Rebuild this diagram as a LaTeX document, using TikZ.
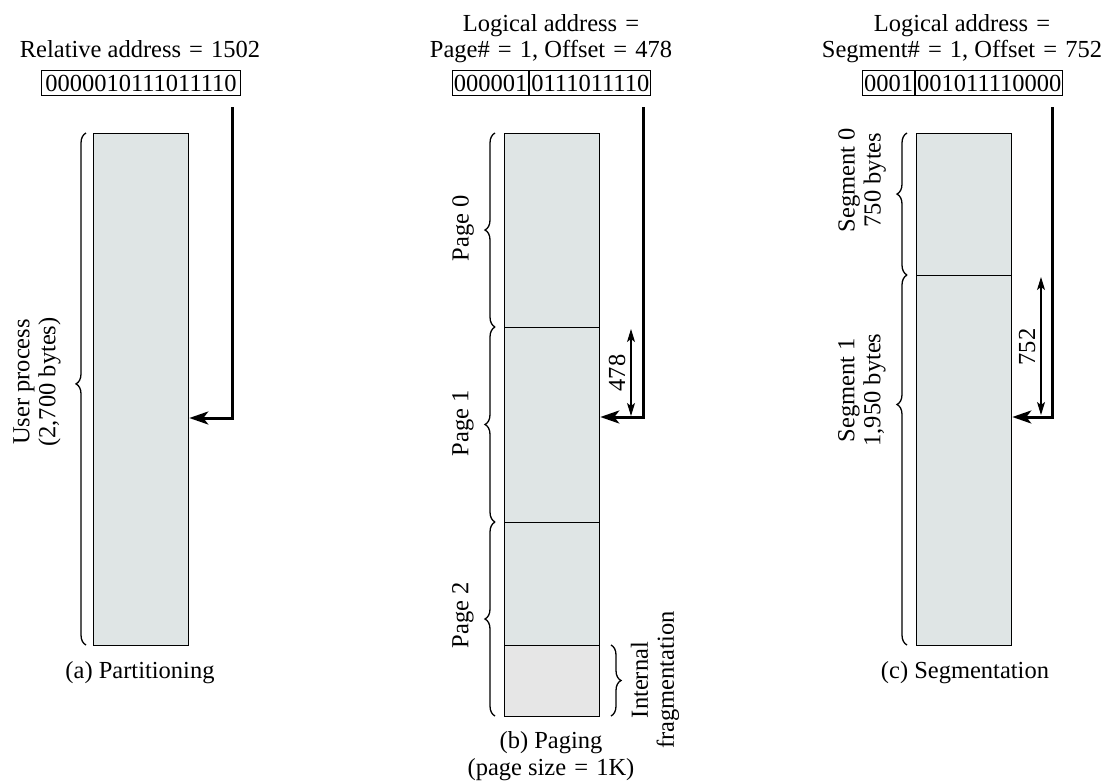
\documentclass[tikz,border=0pt]{standalone}
\usepackage{fontspec}
\setmainfont{Liberation Serif}
\usetikzlibrary{arrows.meta,decorations.pathreplacing}
\definecolor{memfill}{RGB}{223,229,229}
\definecolor{fragfill}{RGB}{230,230,230}
\newcommand{\eqs}{\hspace{2pt}=\hspace{2pt}}
\begin{document}
\begin{tikzpicture}[x=1pt,y=1pt,
  font=\fontsize{24.5}{26}\selectfont,
  mem/.style={draw, line width=1.3pt, fill=memfill, minimum width=95pt, inner sep=0pt, anchor=north west},
  bits/.style={draw, line width=1.1pt, minimum height=25pt, inner ysep=0pt, inner xsep=1.5pt},
  ptr/.style={line width=3pt, -{Stealth[length=19pt,width=13pt,inset=5pt]}},
  dimarrow/.style={line width=1.1pt, {Stealth[length=13pt,width=8pt,inset=3pt]}-{Stealth[length=13pt,width=8pt,inset=3pt]}},
  brc/.style={decorate, decoration={brace, amplitude=10pt, aspect=#1}, line width=1.3pt},
  brc/.default=0.5,
  lbl/.style={rotate=90, align=center, inner sep=0pt},
  txt/.style={anchor=base, inner sep=0pt}]
\useasboundingbox (0,0) rectangle (1111,-780);

% ---------------- (a) Partitioning
\node[txt] (ra) at (140,-57) {Relative address \eqs{} 1502};
\node[bits, inner xsep=4pt, anchor=north west] (ba) at (40.7,-70) {0000010111011110};
\node[mem, minimum height=512pt] (ma) at (93,-133) {};
\coordinate (ta) at (232,-107);
\draw[ptr] (ta) |- (ma.east |- 0,-418);
\draw[brc=0.51] (86,-645) -- (86,-133);
\node[lbl] (la) at (37,-382) {User process\\(2,700 bytes)};
\node[txt] (ca) at (140,-678) {(a) Partitioning};

% ---------------- (b) Paging
\node[txt] (lb1) at (551,-31) {Logical address \eqs{}};
\node[txt] (lb2) at (551,-57) {Page\# \eqs{} 1, Offset \eqs{} 478};
\node[bits, anchor=north west] (bb1) at (451.7,-70) {000001};
\node[bits, anchor=west] (bb2) at (bb1.east) {0111011110};
\node[mem, minimum height=194pt] (p0) at (504,-133) {};
\node[mem, minimum height=195pt] (p1) at (504,-327) {};
\node[mem, minimum height=123pt] (p2) at (504,-522) {};
\node[mem, fill=fragfill, minimum height=71pt] (pf) at (504,-645) {};
\coordinate (tb) at (643,-107);
\draw[ptr] (tb) |- (p1.east |- 0,-417);
\coordinate (db1) at (631,-329);
\coordinate (db2) at (631,-416);
\draw[dimarrow] (db2) -- (db1);
\node[lbl] (o478) at (617,-373) {478};
\draw[brc] (495,-327) -- (495,-133);
\draw[brc] (495,-522) -- (495,-327);
\draw[brc] (495,-716) -- (495,-522);
\node[lbl] (lp0) at (463,-228) {Page 0};
\node[lbl] (lp1) at (463,-423) {Page 1};
\node[lbl] (lp2) at (463,-615) {Page 2};
\draw[brc] (611,-645) -- (611,-716);
\node[lbl] (lif) at (655,-680) {Internal\\fragmentation};
\node[txt] (cb1) at (551,-748) {(b) Paging};
\node[txt] (cb2) at (551,-775) {(page size \eqs{} 1K)};

% ---------------- (c) Segmentation
\node[txt] (lc1) at (962,-31) {Logical address \eqs{}};
\node[txt] (lc2) at (962,-57) {Segment\# \eqs{} 1, Offset \eqs{} 752};
\node[bits, anchor=north west] (bc1) at (862,-70) {0001};
\node[bits, anchor=west] (bc2) at (bc1.east) {001011110000};
\node[mem, minimum height=142pt] (s0) at (916,-133) {};
\node[mem, minimum height=370pt] (s1) at (916,-275) {};
\coordinate (tc) at (1052,-107);
\draw[ptr] (tc) |- (s1.east |- 0,-417);
\coordinate (dc1) at (1041,-277);
\coordinate (dc2) at (1041,-415);
\draw[dimarrow] (dc2) -- (dc1);
\node[lbl] (o752) at (1027,-347) {752};
\draw[brc=0.57] (907,-275) -- (907,-133);
\draw[brc=0.65] (907,-645) -- (907,-275);
\node[lbl] (ls0) at (862,-180) {Segment 0\\750 bytes};
\node[lbl] (ls1) at (862,-390) {Segment 1\\1,950 bytes};
\node[txt] (cc) at (965,-678) {(c) Segmentation};
\end{tikzpicture}
\end{document}
